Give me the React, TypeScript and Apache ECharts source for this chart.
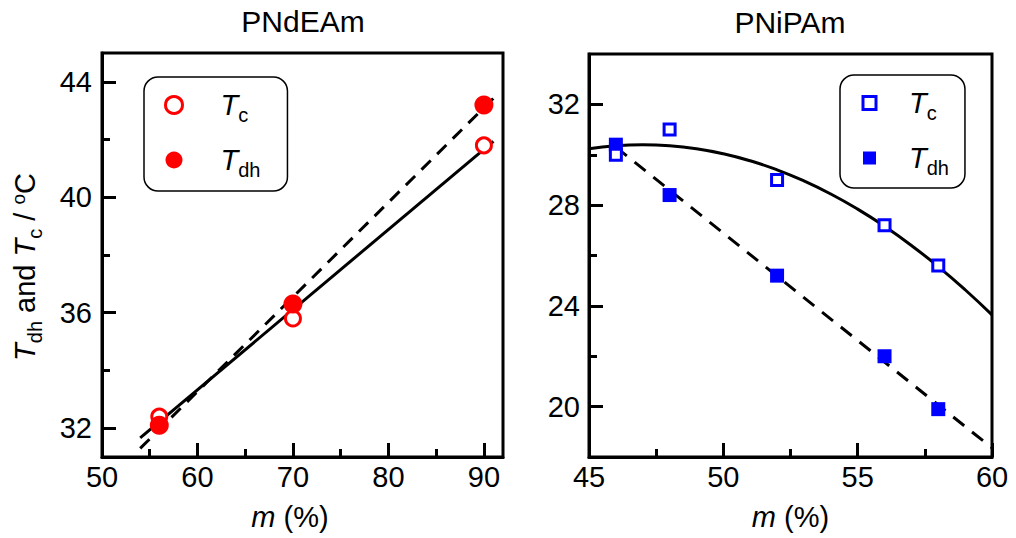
import { useEffect, useRef } from 'react';
import * as echarts from 'echarts';

const FONT = "'Liberation Sans', Arial, Helvetica, sans-serif";

// ---- PNdEAm (left panel) ----
const leftM = [56, 70, 90];
const leftTc = [32.4, 35.8, 41.8];
const leftTdh = [32.1, 36.3, 43.2];
const leftFitM = [54, 91];
const leftTcFit = [31.66, 41.94];
const leftTdhFit = [31.3, 43.43];

// ---- PNiPAm (right panel) ----
const rightM = [46, 48, 52, 56, 58];
const rightTc = [30.0, 31.0, 29.0, 27.2, 25.6];
const rightTdh = [30.4, 28.4, 25.2, 22.0, 19.9];
const rightCurveM = [45, 46, 47, 48, 49, 50, 51, 52, 53, 54, 55, 56, 57, 58, 59, 60];
const rightCurveTc = [30.24, 30.36, 30.4, 30.36, 30.24, 30.04, 29.76, 29.4, 28.96, 28.44, 27.84, 27.16, 26.4, 25.56, 24.64, 23.64];
const rightTdhFitM = [46, 60];
const rightTdhFit = [30.3, 18.36];

// ---- axes ----
const leftXRange = [50, 92];
const leftYRange = [31, 45];
const rightXRange = [45, 60];
const rightYRange = [18, 34];
const leftXTicks = [50, 60, 70, 80, 90];
const leftXMinor = [55, 65, 75, 85];
const leftYTicks = [32, 36, 40, 44];
const leftYMinor = [34, 38, 42];
const rightXTicks = [45, 50, 55, 60];
const rightXMinor = [47.5, 52.5, 57.5];
const rightYTicks = [20, 24, 28, 32];
const rightYMinor = [22, 26, 30];

const titles = ['PNdEAm', 'PNiPAm'];

const zip = (xs: number[], ys: number[]) => xs.map((x, i) => [x, ys[i]]);

const RED = '#ff0000';
const BLUE = '#0000ff';
const BLACK = '#000000';
const SQUARE_ICON = 'path://M0,0L10,0L10,10L0,10Z';

const subRich = {
  t: { fontSize: 29, fontStyle: 'italic', fontFamily: FONT, color: BLACK, lineHeight: 34 },
  s: { fontSize: 20, fontFamily: FONT, color: BLACK, lineHeight: 34, padding: [20, 0, 0, 0] },
  n: { fontSize: 29, fontFamily: FONT, color: BLACK, lineHeight: 34 },
  o: { fontSize: 19, fontFamily: FONT, color: BLACK, lineHeight: 34, padding: [0, 0, 14, 0] },
  i: { fontSize: 29, fontStyle: 'italic', fontFamily: FONT, color: BLACK, lineHeight: 34 },
};

function xMain(gridIndex: number, range: number[], ticks: number[], namePad: number) {
  return {
    type: 'value', gridIndex, min: range[0], max: range[1], position: 'bottom',
    axisLine: { show: true, onZero: false, lineStyle: { color: BLACK, width: 3 } },
    axisTick: { show: true, inside: true, length: 14, customValues: ticks, lineStyle: { color: BLACK, width: 3 } },
    axisLabel: { show: true, customValues: ticks, fontSize: 29, fontFamily: FONT, color: BLACK, margin: 5 },
    splitLine: { show: false },
    name: '{i|m}{n| (%)}', nameLocation: 'middle', nameGap: 43,
    nameTextStyle: { rich: subRich, padding: [0, namePad, 0, 0] },
  };
}
function xMinor(gridIndex: number, range: number[], ticks: number[]) {
  return {
    type: 'value', gridIndex, min: range[0], max: range[1], position: 'bottom',
    axisLine: { show: false, onZero: false },
    axisTick: { show: true, inside: true, length: 8, customValues: ticks, lineStyle: { color: BLACK, width: 3 } },
    axisLabel: { show: false }, splitLine: { show: false },
  };
}
function yMain(gridIndex: number, range: number[], ticks: number[], margin: number, withName: boolean) {
  const ax: any = {
    type: 'value', gridIndex, min: range[0], max: range[1], position: 'left',
    axisLine: { show: true, onZero: false, lineStyle: { color: BLACK, width: 3 } },
    axisTick: { show: true, inside: true, length: 14, customValues: ticks, lineStyle: { color: BLACK, width: 3 } },
    axisLabel: { show: true, customValues: ticks, fontSize: 29, fontFamily: FONT, color: BLACK, margin },
    splitLine: { show: false },
  };
  if (withName) {
    ax.name = '{t|T}{s|dh}{n| and }{t|T}{s|c}{n| / }{o|o}{n|C}';
    ax.nameLocation = 'middle';
    ax.nameRotate = 90;
    ax.nameGap = 60;
    ax.nameTextStyle = { rich: subRich, padding: [0, 24, 0, 0] };
  }
  return ax;
}
function yMinor(gridIndex: number, range: number[], ticks: number[]) {
  return {
    type: 'value', gridIndex, min: range[0], max: range[1], position: 'left',
    axisLine: { show: false, onZero: false },
    axisTick: { show: true, inside: true, length: 8, customValues: ticks, lineStyle: { color: BLACK, width: 3 } },
    axisLabel: { show: false }, splitLine: { show: false },
  };
}

function legendRich(padLeft: number) {
  return {
    t: { fontSize: 29, fontStyle: 'italic', fontFamily: FONT, color: BLACK, lineHeight: 34, padding: [0, 0, 0, padLeft] },
    s: { fontSize: 20, fontFamily: FONT, color: BLACK, lineHeight: 34, padding: [20, 0, 0, 0] },
  };
}
const legendFormatter = (name: string) => (name.indexOf('Tc') === 0 ? '{t|T}{s|c}' : '{t|T}{s|dh}');

const option: any = {
  animation: false,
  backgroundColor: '#ffffff',
  textStyle: { fontFamily: FONT },
  graphic: [
    { type: 'text', x: 303, y: 21, style: { text: titles[0], fontSize: 30, fontFamily: FONT, fill: BLACK, align: 'center', verticalAlign: 'middle', textAlign: 'center', textVerticalAlign: 'middle' } },
    { type: 'text', x: 790, y: 22.5, style: { text: titles[1], fontSize: 30, fontFamily: FONT, fill: BLACK, align: 'center', verticalAlign: 'middle', textAlign: 'center', textVerticalAlign: 'middle' } },
  ],
  grid: [
    { left: 102, top: 53, width: 401, height: 404, show: true, borderColor: BLACK, borderWidth: 3, backgroundColor: 'transparent' },
    { left: 589, top: 54, width: 403, height: 403, show: true, borderColor: BLACK, borderWidth: 3, backgroundColor: 'transparent' },
  ],
  xAxis: [
    xMain(0, leftXRange, leftXTicks, 25),
    xMinor(0, leftXRange, leftXMinor),
    xMain(1, rightXRange, rightXTicks, 0),
    xMinor(1, rightXRange, rightXMinor),
  ],
  yAxis: [
    yMain(0, leftYRange, leftYTicks, 10, true),
    yMinor(0, leftYRange, leftYMinor),
    yMain(1, rightYRange, rightYTicks, 9, false),
    yMinor(1, rightYRange, rightYMinor),
  ],
  legend: [
    {
      left: 144, top: 77, orient: 'vertical', selectedMode: false,
      itemWidth: 17, itemHeight: 40, itemGap: 15, symbolKeepAspect: true,
      padding: [8, 27, 11, 20],
      borderColor: BLACK, borderWidth: 1.5, borderRadius: 14,
      formatter: legendFormatter,
      textStyle: { rich: legendRich(33) },
      data: [
        { name: 'Tc_L', icon: 'circle', itemStyle: { color: '#ffffff', borderColor: RED, borderWidth: 3 } },
        { name: 'Tdh_L', icon: 'circle', itemStyle: { color: RED, borderWidth: 0 } },
      ],
    },
    {
      left: 840, top: 75, orient: 'vertical', selectedMode: false,
      itemWidth: 13, itemHeight: 40, itemGap: 15, symbolKeepAspect: true,
      padding: [8, 16, 10, 21.5],
      borderColor: BLACK, borderWidth: 1.5, borderRadius: 14,
      formatter: legendFormatter,
      textStyle: { rich: legendRich(28) },
      data: [
        { name: 'Tc_R', icon: SQUARE_ICON, itemStyle: { color: '#ffffff', borderColor: BLUE, borderWidth: 3 } },
        { name: 'Tdh_R', icon: SQUARE_ICON, itemStyle: { color: BLUE, borderWidth: 0 } },
      ],
    },
  ],
  series: [
    // left fits
    { type: 'line', name: 'fitTcL', xAxisIndex: 0, yAxisIndex: 0, data: zip(leftFitM, leftTcFit), symbol: 'none', silent: true, lineStyle: { color: BLACK, width: 3 } },
    { type: 'line', name: 'fitTdhL', xAxisIndex: 0, yAxisIndex: 0, data: zip(leftFitM, leftTdhFit), symbol: 'none', silent: true, lineStyle: { color: BLACK, width: 3, type: [13, 9] } },
    // left points
    { type: 'scatter', name: 'Tc_L', xAxisIndex: 0, yAxisIndex: 0, data: zip(leftM, leftTc), symbol: 'circle', symbolSize: 15, itemStyle: { color: '#ffffff', borderColor: RED, borderWidth: 3, opacity: 1 }, z: 5 },
    { type: 'scatter', name: 'Tdh_L', xAxisIndex: 0, yAxisIndex: 0, data: zip(leftM, leftTdh), symbol: 'circle', symbolSize: 19, itemStyle: { color: RED, opacity: 1 }, z: 6 },
    // right fits
    { type: 'line', name: 'fitTcR', xAxisIndex: 2, yAxisIndex: 2, data: zip(rightCurveM, rightCurveTc), symbol: 'none', smooth: true, silent: true, lineStyle: { color: BLACK, width: 3 } },
    { type: 'line', name: 'fitTdhR', xAxisIndex: 2, yAxisIndex: 2, data: zip(rightTdhFitM, rightTdhFit), symbol: 'none', silent: true, lineStyle: { color: BLACK, width: 3, type: [14, 10] } },
    // right points
    { type: 'scatter', name: 'Tdh_R', xAxisIndex: 2, yAxisIndex: 2, data: zip(rightM, rightTdh), symbol: 'rect', symbolSize: 14, itemStyle: { color: BLUE, opacity: 1 }, z: 5 },
    { type: 'scatter', name: 'Tc_R', xAxisIndex: 2, yAxisIndex: 2, data: zip(rightM, rightTc), symbol: 'rect', symbolSize: 11, itemStyle: { color: '#ffffff', borderColor: BLUE, borderWidth: 3, opacity: 1 }, z: 6 },
  ],
};

export default function App() {
  const ref = useRef<HTMLDivElement>(null);
  useEffect(() => {
    document.body.style.margin = '0';
    const chart = echarts.init(ref.current as HTMLDivElement, null, { renderer: 'svg' });
    chart.setOption(option);
    return () => chart.dispose();
  }, []);
  return <div ref={ref} style={{ width: 1016, height: 538 }} />;
}
